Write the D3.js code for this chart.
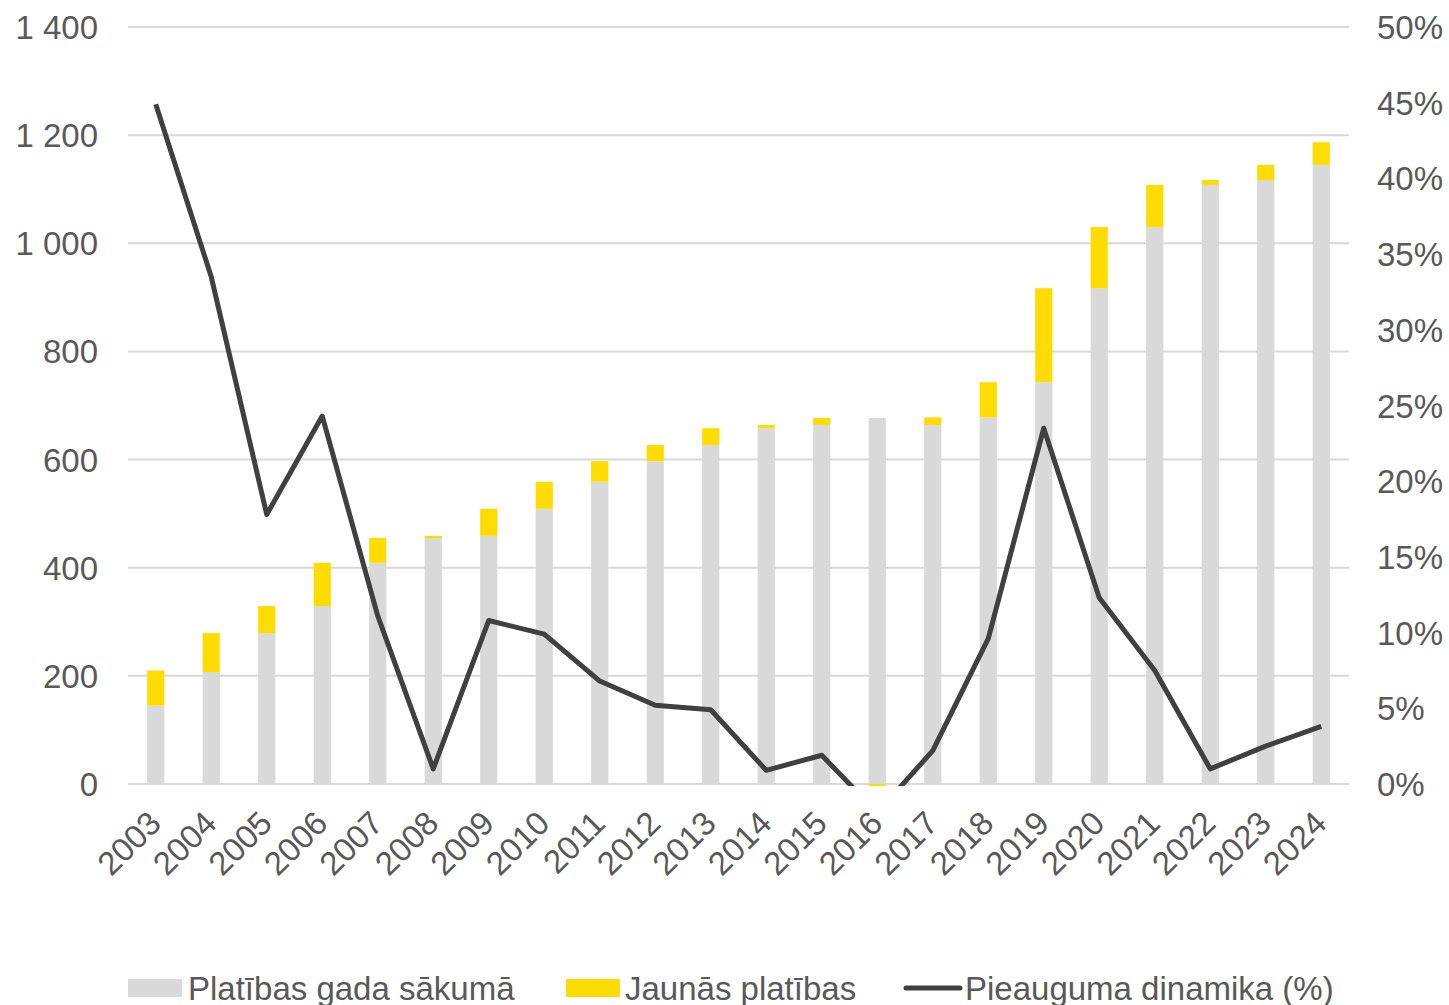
<!DOCTYPE html>
<html>
<head>
<meta charset="utf-8">
<script src="https://cdn.jsdelivr.net/npm/d3@7/dist/d3.min.js"></script>
<style>
  html, body { margin: 0; padding: 0; background: #fff; }
  svg { display: block; font-family: "Liberation Sans", Arial, sans-serif; }
</style>
</head>
<body>
<svg id="chart" width="1449" height="1005"></svg>
<script>
// Years on the category axis
const years = ["2003","2004","2005","2006","2007","2008","2009","2010","2011","2012","2013",
  "2014","2015","2016","2017","2018","2019","2020","2021","2022","2023","2024"];

// Area at the start of the year (thousand m²)
const baseArea = [145, 207, 279, 329, 409, 455, 459, 509, 559, 597, 627,
  658, 664, 677, 664, 678, 743, 917, 1030, 1108, 1117, 1145];

// New area added during the year
const newArea = [65, 72, 50, 80, 46, 4, 50, 50, 38, 30, 31,
  6, 13, -13, 14, 65, 174, 113, 78, 9, 28, 42];

// Growth dynamics, %
const growth = [44.9, 33.5, 17.8, 24.3, 11.1, 1.0, 10.8, 9.9, 6.8, 5.2, 4.9,
  0.9, 1.9, -1.9, 2.2, 9.6, 23.5, 12.3, 7.5, 1.0, 2.5, 3.8];

const leftTicks = [0, 200, 400, 600, 800, 1000, 1200, 1400];
const rightTicks = [0, 5, 10, 15, 20, 25, 30, 35, 40, 45, 50];

const legendLabels = ["Platības gada sākumā", "Jaunās platības", "Pieauguma dinamika (%)"];

const colors = { base: "#D9D9D9", added: "#FFDC00", line: "#404040", text: "#595959", grid: "#D9D9D9" };
const fontSize = "33px";

const svg = d3.select("#chart");
const plot = { left: 128, right: 1349, top: 27, bottom: 784 };

const x = d3.scaleBand().domain(years).range([plot.left, plot.right]).paddingInner(0.69).paddingOuter(0.345);
const yL = d3.scaleLinear().domain([0, 1400]).range([plot.bottom, plot.top]);
const yR = d3.scaleLinear().domain([0, 50]).range([plot.bottom, plot.top]);

const fmtThousands = d => d3.format(",")(d).replace(/,/g, " ");

svg.append("defs").append("clipPath").attr("id", "plotClip")
  .append("rect").attr("x", plot.left).attr("y", plot.top - 10)
  .attr("width", plot.right - plot.left).attr("height", plot.bottom - plot.top + 12);

// Gridlines
svg.append("g").selectAll("line").data(leftTicks).join("line")
  .attr("x1", plot.left).attr("x2", plot.right)
  .attr("y1", d => yL(d)).attr("y2", d => yL(d))
  .attr("stroke", colors.grid).attr("stroke-width", 2);

// Left axis
const axL = svg.append("g").attr("transform", `translate(${plot.left - 30},0)`)
  .call(d3.axisLeft(yL).tickValues(leftTicks).tickFormat(fmtThousands).tickSize(0).tickPadding(0));
axL.select(".domain").remove();
axL.selectAll("text").attr("fill", colors.text).style("font-size", fontSize)
  .style("font-family", "Liberation Sans, Arial, sans-serif").attr("dy", "0.35em");

// Right axis
const axR = svg.append("g").attr("transform", `translate(${plot.right + 28},0)`)
  .call(d3.axisRight(yR).tickValues(rightTicks).tickFormat(d => d + "%").tickSize(0).tickPadding(0));
axR.select(".domain").remove();
axR.selectAll("text").attr("fill", colors.text).style("font-size", fontSize)
  .style("font-family", "Liberation Sans, Arial, sans-serif").attr("dy", "0.35em");

// Stacked bars
const bars = svg.append("g").attr("clip-path", "url(#plotClip)");
bars.selectAll("rect.base").data(years).join("rect").attr("class", "base")
  .attr("x", d => x(d)).attr("width", x.bandwidth())
  .attr("y", (d, i) => yL(baseArea[i]))
  .attr("height", (d, i) => yL(0) - yL(baseArea[i]))
  .attr("fill", colors.base);

bars.selectAll("rect.added").data(years).join("rect").attr("class", "added")
  .attr("x", d => x(d)).attr("width", x.bandwidth())
  .attr("y", (d, i) => newArea[i] >= 0 ? yL(baseArea[i] + newArea[i]) : yL(0))
  .attr("height", (d, i) => Math.abs(yL(0) - yL(Math.abs(newArea[i]))))
  .attr("fill", colors.added);

// Growth line
const line = d3.line().x((d, i) => x(years[i]) + x.bandwidth() / 2).y(d => yR(d));
svg.append("g").attr("clip-path", "url(#plotClip)")
  .append("path").datum(growth).attr("d", line)
  .attr("fill", "none").attr("stroke", colors.line).attr("stroke-width", 5)
  .attr("stroke-linejoin", "round");

// Bottom axis labels, rotated
const axB = svg.append("g").attr("transform", `translate(0,${plot.bottom + 8})`)
  .call(d3.axisBottom(x).tickSize(0).tickPadding(0));
axB.select(".domain").remove();
axB.selectAll("text").attr("fill", colors.text).style("font-size", fontSize)
  .style("font-family", "Liberation Sans, Arial, sans-serif")
  .attr("text-anchor", "end").attr("dy", "0.7em")
  .attr("transform", "translate(-9,17) rotate(-45)");

// Legend
const lg = svg.append("g").style("font-size", fontSize).attr("fill", colors.text);
const lgY = 988;
lg.append("rect").attr("x", 128).attr("y", lgY - 9).attr("width", 54).attr("height", 18).attr("fill", colors.base);
lg.append("text").attr("x", 188).attr("y", lgY).attr("dy", "0.35em").text(legendLabels[0]);
lg.append("rect").attr("x", 566).attr("y", lgY - 9).attr("width", 54).attr("height", 18).attr("fill", colors.added);
lg.append("text").attr("x", 625).attr("y", lgY).attr("dy", "0.35em").text(legendLabels[1]);
lg.append("line").attr("x1", 906).attr("x2", 960).attr("y1", lgY).attr("y2", lgY)
  .attr("stroke", colors.line).attr("stroke-width", 5).attr("stroke-linecap", "round");
lg.append("text").attr("x", 965).attr("y", lgY).attr("dy", "0.35em").text(legendLabels[2]);
</script>
</body>
</html>
